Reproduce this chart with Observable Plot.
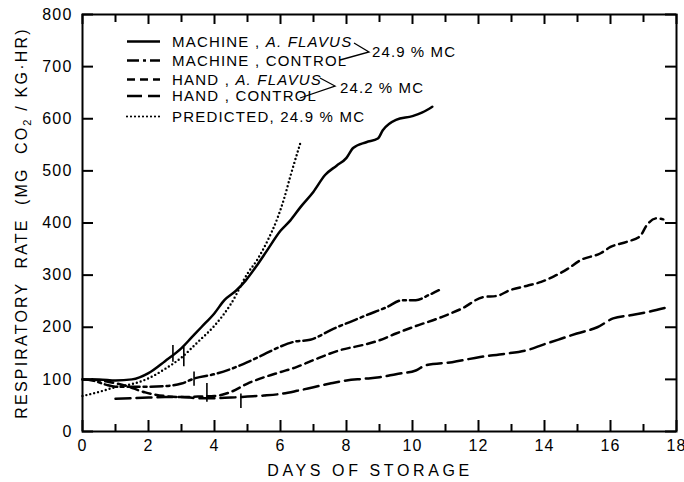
<!DOCTYPE html>
<html>
<head>
<meta charset="utf-8">
<script src="https://cdn.jsdelivr.net/npm/d3@7"></script>
<script src="https://cdn.jsdelivr.net/npm/@observablehq/plot@0.6"></script>
<style>
  html, body { margin: 0; padding: 0; background: #fff; }
</style>
</head>
<body>
<div id="chart"></div>
<script>
// ---- data (days, mg CO2/kg·hr) ----
const machineAflavus = [[0,100],[0.5,100],[1,98],[1.5,100],[2,112],[2.5,135],[3,160],[3.3,180],[3.6,200],[4,227],[4.3,252],[4.65,270],[4.95,290],[5.3,320],[5.6,348],[6,385],[6.3,405],[6.6,430],[7,460],[7.35,492],[7.7,510],[8,525],[8.2,544],[8.6,555],[8.95,562],[9.1,578],[9.5,598],[10,605],[10.3,612],[10.6,623]];
const machineControl = [[0,100],[0.3,98],[0.7,90],[1,86],[1.5,86],[2,86],[2.5,87],[3,92],[3.4,102],[4,110],[4.5,120],[5,133],[5.5,148],[6,163],[6.4,172],[6.9,176],[7.6,197],[8.1,210],[8.6,223],[9.2,238],[9.7,252],[10.1,252],[10.5,262],[10.8,271]];
const handAflavus = [[0.3,100],[0.8,95],[1.3,88],[1.9,75],[2.5,68],[3,66],[3.5,67],[4,68],[4.5,76],[5,92],[5.5,104],[6,114],[6.5,124],[7,137],[7.8,156],[8.5,166],[9,175],[9.5,188],[10,200],[10.9,220],[11.5,236],[12.15,258],[12.55,260],[12.95,271],[13.5,280],[13.9,287],[14.3,298],[14.7,312],[15.1,329],[15.7,342],[16,354],[16.5,364],[16.9,375],[17.1,396],[17.4,409],[17.6,407]];
const handControl = [[1,63],[1.5,64],[2,65],[2.5,66],[3,66],[3.5,64],[4,64],[4.5,65],[5,67],[5.5,69],[6,72],[6.5,78],[7,85],[7.5,92],[8,98],[8.5,101],[9,104],[9.5,110],[10.1,117],[10.4,127],[11.2,133],[12.05,143],[12.8,149],[13.46,156],[14.07,169],[14.5,178],[14.98,188],[15.6,200],[16.08,217],[16.6,223],[17.1,229],[17.7,238]];
const predicted = [[0,68],[0.5,76],[1,85],[1.5,91],[2,102],[2.5,120],[3,142],[3.5,172],[4,203],[4.5,245],[5,303],[5.3,330],[5.6,365],[5.9,408],[6.1,445],[6.3,490],[6.6,553]];
// short vertical markers on curves: [day, low, high]
const markers = [[2.74,133,165],[3.07,124,161],[3.38,87,114],[3.77,56,92],[4.8,44,72]];

const xMajor = [0,2,4,6,8,10,12,14,16,18];
const xMinor = [1,3,5,7,9,11,13,15,17];
const yTicks = [0,100,200,300,400,500,600,700,800];

const legendItems = [
  {label: ["MACHINE , ", "A. FLAVUS"], dash: null},
  {label: ["MACHINE , CONTROL"], dash: "12,4,3,4"},
  {label: ["HAND , ", "A. FLAVUS"], dash: "8,5"},
  {label: ["HAND , CONTROL"], dash: "15,6"},
  {label: ["PREDICTED, 24.9 % MC"], dash: "dot"}
];
const groupLabels = ["24.9 % MC", "24.2 % MC"];
const xTitle = "DAYS OF STORAGE";

const series = [
  {data: machineAflavus, dash: null},
  {data: machineControl, dash: "12,4,3,4"},
  {data: handAflavus, dash: "8,5"},
  {data: handControl, dash: "15,6"},
  {data: predicted, dash: "dot"}
];

const W = 684, H = 482, ML = 82, MR = 8, MT = 14, MB = 51;
const innerW = W - ML - MR, innerH = H - MT - MB;
const FONT = "'Liberation Sans', Arial, sans-serif";

function lineMark(s) {
  const o = {x: d => d[0], y: d => d[1], stroke: "#000", strokeWidth: 2.5, curve: "monotone-x"};
  if (s.dash === "dot") { o.strokeDasharray = "0,4"; o.strokeLinecap = "round"; o.strokeWidth = 2.4; }
  else if (s.dash) { o.strokeDasharray = s.dash; }
  return Plot.line(s.data, o);
}

function overlay() {
  const g = d3.create("svg:g").attr("font-family", FONT).attr("fill", "#000").attr("text-anchor", "start");
  const rows = [41.5, 60.5, 79.5, 96, 116.5];
  legendItems.forEach((it, i) => {
    const ln = g.append("line").attr("x1", 127).attr("x2", 160).attr("y1", rows[i]).attr("y2", rows[i])
      .attr("stroke", "#000").attr("stroke-width", it.dash === "dot" ? 2.2 : 2.5);
    if (it.dash === "dot") ln.attr("stroke-dasharray", "0,4").attr("stroke-linecap", "round");
    else if (it.dash) ln.attr("stroke-dasharray", it.dash);
    const t = g.append("text").attr("x", 172).attr("y", rows[i]).attr("dy", "0.36em")
      .attr("font-size", 15).attr("letter-spacing", "1.2px");
    t.append("tspan").text(it.label[0]);
    if (it.label[1]) t.append("tspan").attr("font-style", "italic").text(it.label[1]);
  });
  // brackets
  g.append("polyline").attr("points", "354,43 369,52 340,60").attr("fill", "none").attr("stroke", "#000").attr("stroke-width", 1.3);
  g.append("polyline").attr("points", "320,78 335,86 300,98").attr("fill", "none").attr("stroke", "#000").attr("stroke-width", 1.3);
  g.append("text").attr("x", 372).attr("y", 52).attr("dy", "0.36em").attr("font-size", 15).attr("letter-spacing", "1.1px").text(groupLabels[0]);
  g.append("text").attr("x", 340).attr("y", 88).attr("dy", "0.36em").attr("font-size", 15).attr("letter-spacing", "1.1px").text(groupLabels[1]);
  // axis titles
  g.append("text").attr("x", 370).attr("y", 476).attr("text-anchor", "middle")
    .attr("font-size", 16).attr("letter-spacing", "3.6px").text(xTitle);
  const yt = g.append("text").attr("transform", "translate(27,223) rotate(-90)").attr("text-anchor", "middle")
    .attr("font-size", 16).attr("letter-spacing", "2.2px");
  yt.append("tspan").text("RESPIRATORY  RATE  (MG  CO");
  yt.append("tspan").attr("font-size", 11).attr("dy", 4).text("2");
  yt.append("tspan").attr("dy", -4).text(" / KG·HR)");
  return g.node();
}

const tk = {stroke: "#000", strokeWidth: 2};

const chart = Plot.plot({
  width: W,
  height: H,
  marginLeft: ML,
  marginRight: MR,
  marginTop: MT,
  marginBottom: MB,
  x: {domain: [0, 18]},
  y: {domain: [0, 800]},
  style: {fontFamily: FONT, fontSize: "16px", letterSpacing: "1.2px"},
  marks: [
    Plot.frame({strokeWidth: 2}),
    Plot.axisX({ticks: xMajor, anchor: "bottom", tickSize: 0, tickPadding: 8, label: null, fontSize: 16}),
    Plot.axisY({ticks: yTicks, anchor: "left", tickSize: 0, tickPadding: 10, label: null, fontSize: 16}),
    ...series.map(lineMark),
    Plot.ruleX(markers, {x: d => d[0], y1: d => d[1], y2: d => d[2], stroke: "#000", strokeWidth: 1.6}),
    // inward ticks on all four sides
    Plot.tickX(xMajor, {x: d => d, insetTop: innerH - 11, ...tk}),
    Plot.tickX(xMinor, {x: d => d, insetTop: innerH - 7, ...tk}),
    Plot.tickX(xMajor, {x: d => d, insetBottom: innerH - 10, ...tk}),
    Plot.tickX(xMinor, {x: d => d, insetBottom: innerH - 8, ...tk}),
    Plot.tickY(yTicks, {y: d => d, insetRight: innerW - 11, ...tk}),
    Plot.tickY(yTicks, {y: d => d, insetLeft: innerW - 11, ...tk}),
    overlay
  ]
});
document.getElementById("chart").appendChild(chart);
</script>
</body>
</html>
